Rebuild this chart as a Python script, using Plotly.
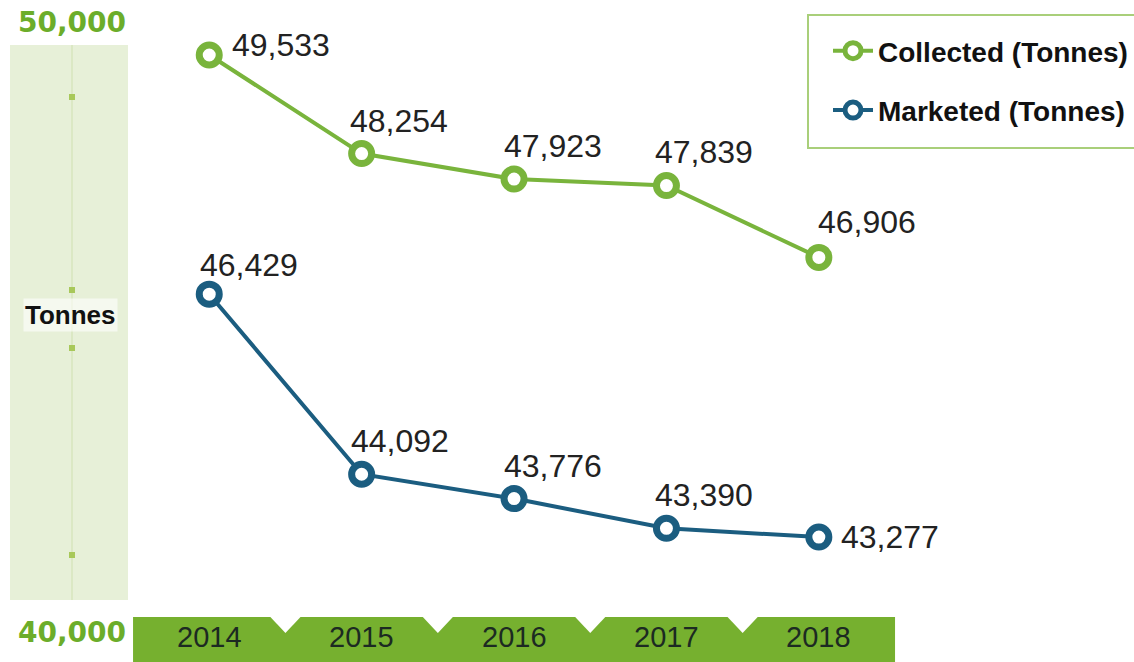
import plotly.graph_objects as go

years = [2014, 2015, 2016, 2017, 2018]
collected = [49533, 48254, 47923, 47839, 46906]
marketed = [46429, 44092, 43776, 43390, 43277]
axis_labels = ["50,000", "40,000"]

green = "#79b43c"
blue = "#1b5d80"
band_green = "#76b02f"

W, H = 1134, 662

fig = go.Figure()

fig.add_trace(go.Scatter(
    x=years, y=collected, mode="lines+markers", name="<b>Collected (Tonnes)</b>",
    legendgroup="c",
    line=dict(color=green, width=4),
    marker=dict(size=20, color="white", line=dict(color=green, width=7)),
))
fig.add_trace(go.Scatter(
    x=years, y=marketed, mode="lines+markers", name="<b>Marketed (Tonnes)</b>",
    legendgroup="m",
    line=dict(color=blue, width=4),
    marker=dict(size=20, color="white", line=dict(color=blue, width=7)),
))

# value labels, offsets in pixels (dx, dy up)
coll_off = [(72, 10), (37, 33), (39, 33), (38, 34), (48, 35)]
mark_off = [(40, 29), (38, 33), (39, 33), (38, 33), (71, 0)]
for vals, offs in [(collected, coll_off), (marketed, mark_off)]:
    for x, v, (dx, dy) in zip(years, vals, offs):
        fig.add_annotation(x=x, y=v, text=f"{v:,}", showarrow=False,
                           xshift=dx, yshift=dy, xanchor="center", yanchor="middle",
                           font=dict(size=32, color="#222222", family="Liberation Sans"))


def label(px, py, text, size, color, family, **kw):
    fig.add_annotation(xref="paper", yref="paper", x=px / W, y=1 - py / H,
                       xanchor="center", yanchor="middle", text=text,
                       showarrow=False, font=dict(size=size, color=color, family=family), **kw)


# left decorative axis band
fig.add_shape(type="rect", xref="paper", yref="paper",
              x0=10 / W, x1=128 / W, y0=1 - 600 / H, y1=1 - 45 / H,
              fillcolor="#e7f0d8", line_width=0, layer="below")
fig.add_shape(type="line", xref="paper", yref="paper",
              x0=72 / W, x1=72 / W, y0=1 - 600 / H, y1=1 - 45 / H,
              line=dict(color="#dbe8c4", width=2), layer="below")
for py in [97, 290, 348, 555]:
    fig.add_shape(type="rect", xref="paper", yref="paper",
                  x0=69 / W, x1=75 / W, y0=1 - (py + 3) / H, y1=1 - (py - 3) / H,
                  fillcolor="#a8c85a", line_width=0, layer="below")

label(72, 22, f"<b>{axis_labels[0]}</b>", 28, "#6cad2a", "DejaVu Sans")
label(72, 632, f"<b>{axis_labels[1]}</b>", 28, "#6cad2a", "DejaVu Sans")
label(70, 315, "<b>Tonnes</b>", 26, "#111111", "Liberation Sans",
      bgcolor="rgba(255,255,255,0.6)")

# year band at the bottom
fig.add_shape(type="rect", xref="x", yref="paper",
              x0=years[0] - 0.5, x1=years[-1] + 0.5, y0=0, y1=1 - 617 / H,
              fillcolor=band_green, line_width=0, layer="below")
nw = 16 / 152.4
for yr in years[:-1]:
    b = yr + 0.5
    fig.add_shape(type="path", xref="x", yref="paper",
                  path=f"M {b - nw},{1 - 616 / H} L {b + nw},{1 - 616 / H} L {b},{1 - 633 / H} Z",
                  fillcolor="white", line_width=0, layer="below")
for yr in years:
    fig.add_annotation(x=yr, xref="x", yref="paper", y=1 - 637 / H,
                       xanchor="center", yanchor="middle",
                       text=str(yr), showarrow=False,
                       font=dict(size=29, color="#1c2a22", family="Liberation Sans"))

# legend frame
fig.add_shape(type="rect", xref="paper", yref="paper",
              x0=808 / W, x1=1140 / W, y0=1 - 148 / H, y1=1 - 15 / H,
              line=dict(color="#a9cf7a", width=2), fillcolor="white", layer="below")

fig.update_xaxes(visible=False, range=[2012.627, 2020.068])
fig.update_yaxes(visible=False, range=[41655, 50247])

fig.update_layout(
    width=W, height=H,
    margin=dict(l=0, r=0, t=0, b=0),
    paper_bgcolor="white", plot_bgcolor="white",
    showlegend=True,
    legend=dict(x=828 / W, y=1 - 26 / H, xanchor="left", yanchor="top",
                borderwidth=0, bgcolor="rgba(0,0,0,0)",
                font=dict(size=28, color="#111111", family="Liberation Sans"),
                tracegroupgap=20, itemwidth=40),
)

fig.write_html("out.html", config={"displayModeBar": False},
               post_script="document.body.style.margin='0px';")
